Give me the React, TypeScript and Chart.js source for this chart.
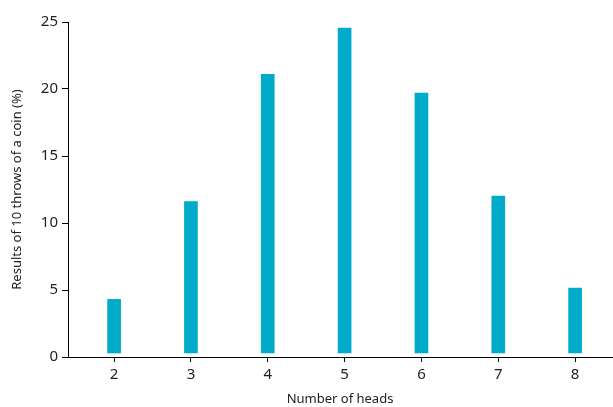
import React, { useEffect, useRef } from "react";
import { Chart, registerables } from "chart.js";

Chart.register(...registerables);

const heads = [2, 3, 4, 5, 6, 7, 8];
const percents = [4.3, 11.6, 21.1, 24.55, 19.7, 12.0, 5.15];
const yTicks = [0, 5, 10, 15, 20, 25];

export default function App() {
  const ref = useRef<HTMLCanvasElement>(null);
  useEffect(() => {
    if (!ref.current) return;
    const font = "'Noto Sans', 'DejaVu Sans', sans-serif";
    const chart = new Chart(ref.current, {
      type: "bar",
      data: {
        datasets: [
          {
            data: heads.map((h, i) => ({ x: h, y: percents[i] })),
            backgroundColor: "#00abc9",
            borderWidth: 0,
            barThickness: 13,
            base: 0.3,
          } as any,
        ],
      },
      options: {
        animation: false,
        responsive: false,
        maintainAspectRatio: false,
        layout: { padding: { top: 22, right: 1, left: 0, bottom: 0 } },
        plugins: { legend: { display: false }, tooltip: { enabled: false } },
        scales: {
          x: {
            type: "linear",
            offset: false,
            min: 1.40,
            max: 8.48,
            afterBuildTicks: (s: any) => {
              s.ticks = heads.map((v) => ({ value: v }));
            },
            afterFit: (s: any) => {
              s.height = 50;
            },
            ticks: { color: "#222", font: { family: font, size: 15 }, padding: 4 },
            grid: { display: true, offset: false, drawOnChartArea: false, drawTicks: true, tickLength: 5, color: "#000" },
            border: { color: "#000", width: 1 },
            title: {
              display: true,
              text: "Number of heads",
              color: "#222",
              font: { family: font, size: 13 },
              padding: { top: 1, bottom: 0 },
            },
          },
          y: {
            min: 0,
            max: 25,
            afterBuildTicks: (s: any) => {
              s.ticks = yTicks.map((v) => ({ value: v }));
            },
            afterFit: (s: any) => {
              s.width = 68;
            },
            ticks: { color: "#222", font: { family: font, size: 15 }, padding: 4 },
            grid: { display: true, drawOnChartArea: false, drawTicks: true, tickLength: 6, color: "#000" },
            border: { color: "#000", width: 1 },
            title: {
              display: true,
              text: "Results of 10 throws of a coin (%)",
              color: "#222",
              font: { family: font, size: 13 },
              padding: { top: 9, bottom: 4 },
            },
          },
        },
      },
    });
    return () => chart.destroy();
  }, []);
  return (
    <div style={{ position: "absolute", left: 0, top: 0, width: 613, height: 407, background: "#fff" }}>
      <canvas ref={ref} width={613} height={407} style={{ width: 613, height: 407 }} />
    </div>
  );
}
